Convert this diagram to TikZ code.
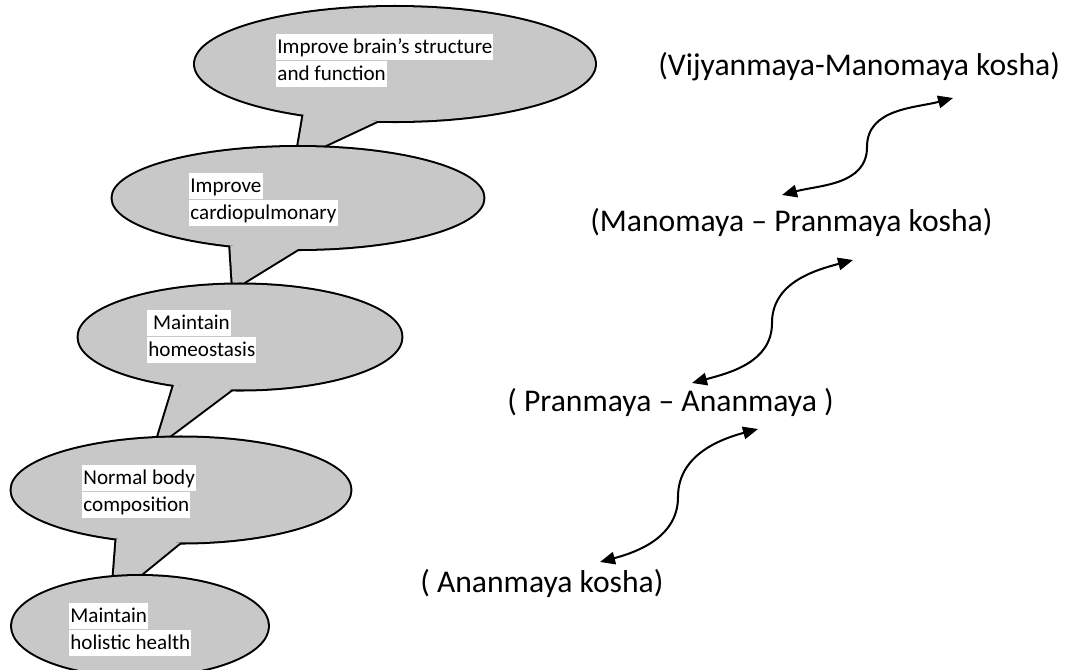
\documentclass[tikz,border=0pt]{standalone}
\usepackage{fontspec}
\setmainfont{Carlito}
\usetikzlibrary{shapes.geometric,arrows.meta}
\definecolor{bubblegray}{RGB}{200,200,200}
\newcommand{\wline}[1]{{\setlength{\fboxsep}{0pt}\colorbox{white}{\rule[-3.8pt]{0pt}{14.8pt}\hspace{0.6pt}#1\hspace{0.6pt}}}}
\tikzset{
  bubble/.style = {shape=ellipse, inner sep=0pt, outer sep=0pt, fill=bubblegray},
  rim/.style    = {draw=black, line width=2.3pt, line join=round},
  tail/.style   = {fill=bubblegray},
  note/.style   = {anchor=north west, inner sep=0pt, align=left,
                   font=\fontsize{12}{15.4}\selectfont},
  kosha/.style  = {anchor=west, inner sep=0pt, font=\fontsize{18}{22}\selectfont},
  link/.style   = {draw, line width=1.15pt,
                   {Triangle[length=0.3cm,width=0.25cm]}-{Triangle[length=0.3cm,width=0.25cm]}}
}

\begin{document}
\begin{tikzpicture}[x=0.02cm, y=0.02cm]
    \useasboundingbox (0,0) rectangle (1073,-670);

    % callouts, top to bottom
    \node[bubble, rim, minimum width=8cm, minimum height=2.28cm] (brain) at (395,-64) {};
    \coordinate (brain tip) at (296,-159);
    \draw[tail, rim] (brain.-151) -- (brain tip) -- (brain.-107) -- cycle;
    \node[bubble, minimum width=8cm, minimum height=2.28cm] at (brain) {};
    \fill[bubblegray] (brain.-151) -- (brain tip) -- (brain.-107) -- cycle;
    \node[note] (brain text) at (276,-34) {\wline{Improve brain’s structure}\\\wline{and function}};

    \node[bubble, rim, minimum width=7.42cm, minimum height=2.04cm] (cardio) at (298,-198) {};
    \coordinate (cardio tip) at (233,-289);
    \draw[tail, rim] (cardio.-145) -- (cardio tip) -- (cardio.-90) -- cycle;
    \node[bubble, minimum width=7.42cm, minimum height=2.04cm] at (cardio) {};
    \fill[bubblegray] (cardio.-145) -- (cardio tip) -- (cardio.-90) -- cycle;
    \node[note] (cardio text) at (189,-173) {\wline{Improve}\\\wline{cardiopulmonary}};

    \node[bubble, rim, minimum width=6.46cm, minimum height=2.1cm] (homeo) at (240,-337) {};
    \coordinate (homeo tip) at (155,-447);
    \draw[tail, rim] (homeo.-144) -- (homeo tip) -- (homeo.-99) -- cycle;
    \node[bubble, minimum width=6.46cm, minimum height=2.1cm] at (homeo) {};
    \fill[bubblegray] (homeo.-144) -- (homeo tip) -- (homeo.-99) -- cycle;
    \node[note] (homeo text) at (147,-310) {\wline{\ Maintain}\\\wline{homeostasis}};

    \node[bubble, rim, minimum width=6.78cm, minimum height=2.1cm] (body) at (181,-490) {};
    \coordinate (body tip) at (112,-598);
    \draw[tail, rim] (body.-143) -- (body tip) -- (body.-91) -- cycle;
    \node[bubble, minimum width=6.78cm, minimum height=2.1cm] at (body) {};
    \fill[bubblegray] (body.-143) -- (body tip) -- (body.-91) -- cycle;
    \node[note] (body text) at (82,-465) {\wline{Normal body}\\\wline{composition}};

    \node[bubble, rim, minimum width=5.12cm, minimum height=2cm] (health) at (140,-626) {};
    \node[bubble, minimum width=5.12cm, minimum height=2cm] at (health) {};
    \node[note] (health text) at (69,-603) {\wline{Maintain}\\\wline{holistic health}};

    % koshas
    \node[kosha] (vijyanmaya) at (658,-67) {(Vijyanmaya-Manomaya kosha)};
    \node[kosha] (manomaya) at (590,-222) {(Manomaya – Pranmaya kosha)};
    \node[kosha] (pranmaya) at (507,-402) {( Pranmaya – Ananmaya )};
    \node[kosha] (ananmaya) at (420,-583) {( Ananmaya kosha)};

    \coordinate (vm low) at (782,-195);
    \coordinate (vm mid) at (867,-147);
    \coordinate (vm high) at (953,-98);
    \coordinate (mp low) at (692,-383);
    \coordinate (mp mid) at (772,-323);
    \coordinate (mp high) at (853,-260);
    \coordinate (pa low) at (600,-562);
    \coordinate (pa mid) at (678,-497);
    \coordinate (pa high) at (758,-429);

    \draw[link] (vm low) to[out=15,in=-90] (vm mid) to[out=90,in=195] (vm high);
    \draw[link] (mp low) to[out=15,in=-90] (mp mid) to[out=90,in=195] (mp high);
    \draw[link] (pa low) to[out=15,in=-90] (pa mid) to[out=90,in=195] (pa high);

\end{tikzpicture}
\end{document}
